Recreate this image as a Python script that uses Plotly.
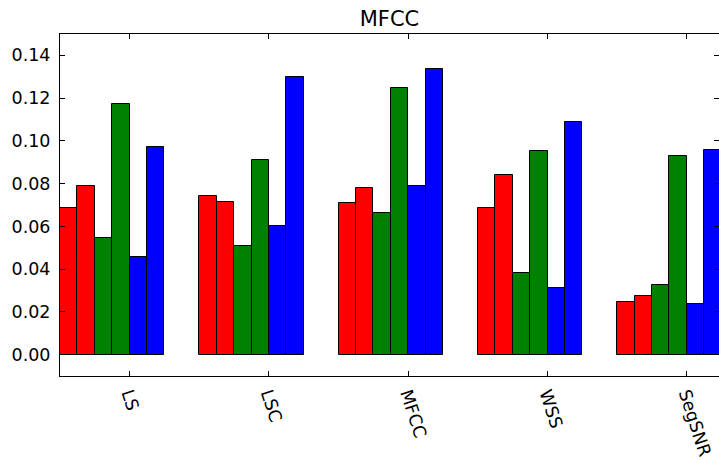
import plotly.graph_objects as go

categories = ["LS", "LSC", "MFCC", "WSS", "SegSNR"]
series_a = [0.0688, 0.0742, 0.0709, 0.0688, 0.0248]
series_b = [0.0787, 0.0714, 0.0781, 0.0839, 0.0273]
series_c = [0.0547, 0.0510, 0.0662, 0.0382, 0.0327]
series_d = [0.1171, 0.0912, 0.1247, 0.0952, 0.0929]
series_e = [0.0457, 0.0602, 0.0787, 0.0312, 0.0237]
series_f = [0.0973, 0.1297, 0.1338, 0.1086, 0.0955]
colors = ["#ff0000", "#ff0000", "#008000", "#008000", "#0000ff", "#0000ff"]
y_ticks = [0.00, 0.02, 0.04, 0.06, 0.08, 0.10, 0.12, 0.14]

all_series = [series_a, series_b, series_c, series_d, series_e, series_f]
width = 0.125

fig = go.Figure()
for k, (vals, col) in enumerate(zip(all_series, colors)):
    fig.add_trace(go.Bar(
        x=[i + k * width + width / 2 for i in range(len(categories))],
        y=vals,
        width=width,
        marker=dict(color=col, line=dict(color="black", width=1)),
        showlegend=False,
    ))

font = dict(family="DejaVu Sans", size=17.5, color="black")
fig.update_layout(
    width=719, height=460,
    margin=dict(l=60, r=0, t=34, b=84),
    paper_bgcolor="white", plot_bgcolor="white",
    barmode="overlay",
    bargap=0,
    font=font,
    title=dict(text="MFCC", x=0.5, xref="paper", xanchor="center",
               y=1 - 19 / 460, yref="container", yanchor="middle",
               font=dict(family="DejaVu Sans", size=21, color="black")),
)
fig.update_xaxes(
    range=[0, 4.731],
    tickvals=[i + 0.5 for i in range(len(categories))],
    ticktext=categories,
    tickangle=72,
    ticks="inside", ticklen=5, tickcolor="black",
    showline=True, linecolor="black", linewidth=1, mirror="allticks",
    showgrid=False, zeroline=False,
    tickfont=font,
    ticklabelstandoff=0,
)
fig.update_yaxes(
    range=[-0.01, 0.15],
    tickvals=y_ticks,
    ticktext=[f"{v:.2f}" for v in y_ticks],
    ticks="inside", ticklen=5, tickcolor="black",
    showline=True, linecolor="black", linewidth=1, mirror="allticks",
    showgrid=False, zeroline=False,
    tickfont=font,
    ticklabelstandoff=5,
)
fig.write_html("out.html")
